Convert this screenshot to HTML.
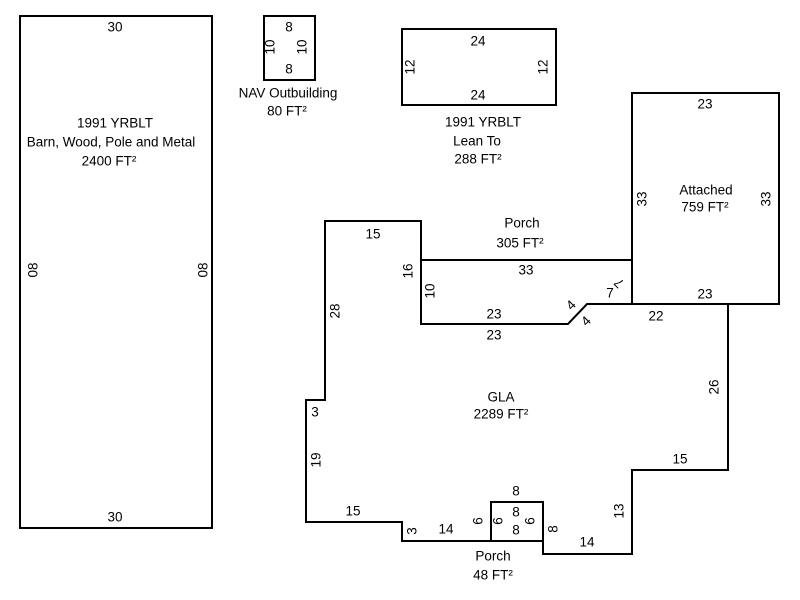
<!DOCTYPE html>
<html><head><meta charset="utf-8"><style>
html,body{margin:0;padding:0;background:#fff;}
svg{display:block;}
text{font-family:"Liberation Sans",Arial,sans-serif;font-size:13.5px;fill:#000;}
</style></head><body>
<svg width="800" height="600" viewBox="0 0 800 600" xmlns="http://www.w3.org/2000/svg">
<g fill="none" stroke="#000" stroke-width="2">
<rect x="20" y="16" width="192" height="512"/>
<rect x="264" y="16" width="51" height="64"/>
<rect x="402" y="29" width="154" height="76"/>
<rect x="632" y="93" width="147" height="211"/>
<path d="M325,221 L421,221 L421,324 L568,324 L587,304 L728,304 L728,470 L632,470 L632,554 L543,554 L543,541 L402,541 L402,522 L306,522 L306,400 L325,400 Z"/>
<line x1="421" y1="260" x2="632" y2="260"/>
<rect x="491" y="502" width="52" height="39"/>
</g>
<g text-anchor="middle" dominant-baseline="central">
<text x="115" y="27">30</text>
<text x="115" y="517">30</text>
<text x="115" y="123">1991 YRBLT</text>
<text x="111" y="142">Barn, Wood, Pole and Metal</text>
<text x="109" y="161">2400 FT²</text>
<text transform="translate(33,270) rotate(-90)">08</text>
<text transform="translate(203,270) rotate(-90)">08</text>
<text x="289" y="27">8</text>
<text x="289" y="69">8</text>
<text transform="translate(270,47) rotate(-90)">10</text>
<text transform="translate(302,47) rotate(-90)">10</text>
<text x="288" y="93">NAV Outbuilding</text>
<text x="287" y="111">80 FT²</text>
<text x="478" y="41">24</text>
<text x="478" y="95">24</text>
<text transform="translate(410,67) rotate(-90)">12</text>
<text transform="translate(543,67) rotate(-90)">12</text>
<text x="483" y="122">1991 YRBLT</text>
<text x="477" y="141">Lean To</text>
<text x="478" y="159">288 FT²</text>
<text x="705" y="104">23</text>
<text x="705" y="294">23</text>
<text transform="translate(642,199) rotate(-90)">33</text>
<text transform="translate(766,199) rotate(-90)">33</text>
<text x="706" y="190">Attached</text>
<text x="705" y="207">759 FT²</text>
<text x="522" y="223">Porch</text>
<text x="520" y="243">305 FT²</text>
<text x="526" y="270">33</text>
<text x="494" y="314">23</text>
<text x="494" y="335">23</text>
<text transform="translate(430,291) rotate(-90)">10</text>
<text transform="translate(408,271) rotate(-90)">16</text>
<text x="610" y="293">7</text>
<text transform="translate(619,283) rotate(-135)">7</text>
<text transform="translate(571,305) rotate(-45)">4</text>
<text transform="translate(586,321) rotate(-45)">4</text>
<text x="373" y="234">15</text>
<text transform="translate(335,311) rotate(-90)">28</text>
<text x="315" y="412">3</text>
<text transform="translate(316,460) rotate(-90)">19</text>
<text x="353" y="511">15</text>
<text transform="translate(412,531) rotate(-90)">3</text>
<text x="446" y="529">14</text>
<text transform="translate(478,521) rotate(-90)">6</text>
<text transform="translate(498,521) rotate(-90)">6</text>
<text transform="translate(530,521) rotate(-90)">6</text>
<text transform="translate(553,529) rotate(-90)">8</text>
<text x="516" y="491">8</text>
<text x="516" y="512">8</text>
<text x="516" y="530">8</text>
<text x="587" y="542">14</text>
<text transform="translate(619,511) rotate(-90)">13</text>
<text x="680" y="459">15</text>
<text transform="translate(714,387) rotate(-90)">26</text>
<text x="656" y="316">22</text>
<text x="501" y="397">GLA</text>
<text x="501" y="414">2289 FT²</text>
<text x="493" y="556">Porch</text>
<text x="493" y="575">48 FT²</text>
</g>
</svg>
</body></html>
